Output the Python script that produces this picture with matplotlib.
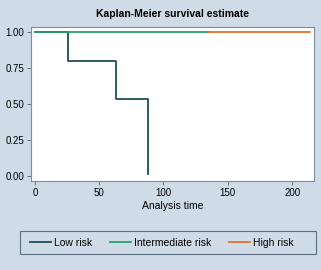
import matplotlib.pyplot as plt
from matplotlib.patches import Rectangle
from matplotlib.ticker import FormatStrFormatter

plt.rcParams['font.family'] = ['Liberation Sans', 'DejaVu Sans']

# Datos (tiempos y supervivencia escalonada)
low_t = [0, 26, 26, 63, 63, 88, 88]
low_s = [1.0, 1.0, 0.8, 0.8, 0.533, 0.533, 0.01]
inter_t = [0, 135]
inter_s = [1.0, 1.0]
high_t = [135, 214]
high_s = [1.0, 1.0]

xticks = [0, 50, 100, 150, 200]
yticks = [0.0, 0.25, 0.5, 0.75, 1.0]

bg = '#cfdbe7'
c_low = '#1d4f55'
c_inter = '#2aa06a'
c_high = '#e8702c'

fig = plt.figure(figsize=(3.21, 2.70), dpi=100, facecolor=bg)
ax = fig.add_axes([31 / 321, 89 / 270, 283 / 321, 154 / 270])
ax.set_facecolor('white')

ax.plot(low_t, low_s, color=c_low, lw=1.3, label='Low risk')
ax.plot(inter_t, inter_s, color=c_inter, lw=1.3, label='Intermediate risk')
ax.plot(high_t, high_s, color=c_high, lw=1.3, label='High risk')

ax.set_xlim(-3, 217)
ax.set_ylim(-0.037, 1.037)
ax.set_xticks(xticks)
ax.set_yticks(yticks)
ax.yaxis.set_major_formatter(FormatStrFormatter('%.2f'))
ax.tick_params(labelsize=7, length=3, width=0.6, color='#555f6a', pad=2)
for s in ax.spines.values():
    s.set_color('#7a8fa3')
    s.set_linewidth(0.8)

ax.set_xlabel('Analysis time', fontsize=7.5, labelpad=2)
fig.text(0.536, 0.948, 'Kaplan-Meier survival estimate', ha='center', va='center',
         fontsize=7.5, fontweight='bold')

# Recuadro de la leyenda
fig.patches.append(Rectangle((20 / 321, 16 / 270), 296 / 321, 23 / 270,
                             transform=fig.transFigure, facecolor=bg,
                             edgecolor='#5b6f80', linewidth=0.8))
fig.legend(loc='center', ncol=3, bbox_to_anchor=(162 / 321, 27.5 / 270),
           fontsize=7.5, frameon=False, handlelength=2.0,
           handletextpad=0.3, columnspacing=1.7)

fig.savefig('out.png', dpi=100, facecolor=bg)
